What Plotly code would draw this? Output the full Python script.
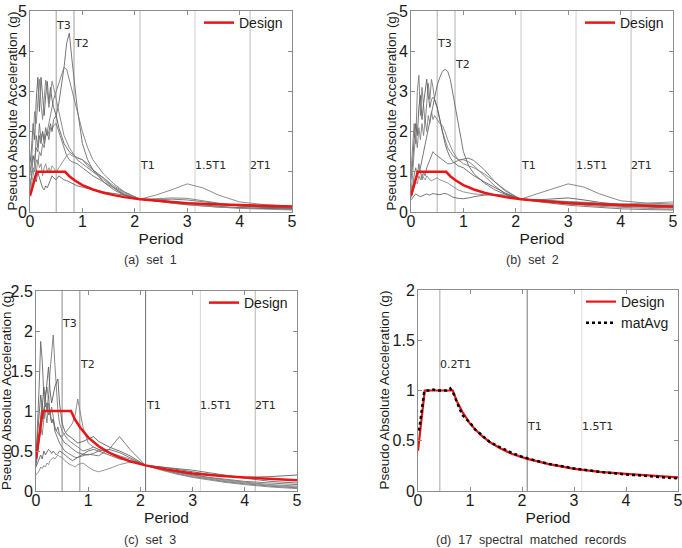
import plotly.graph_objects as go

# ---------------- data ----------------
P = [0.0, 0.03, 0.06, 0.09, 0.12, 0.15, 0.18, 0.21, 0.24, 0.27, 0.30, 0.33, 0.36, 0.39,
     0.42, 0.45, 0.5, 0.55, 0.6, 0.65, 0.7, 0.75, 0.8, 0.9, 1.0, 1.1, 1.2, 1.4, 1.6, 1.8,
     2.0, 2.1, 2.4, 2.7, 3.0, 3.3, 3.6, 4.0, 4.5, 5.0]

set1 = [
    [1.0, 1.2, 1.4, 1.3, 1.6, 1.5, 1.9, 1.7, 2.0, 1.8, 2.1, 1.9, 2.0, 2.2, 2.0, 2.3, 2.4, 2.7, 3.1, 3.6,
     4.2, 4.45, 3.8, 2.6, 1.7, 1.3, 1.05, 0.75, 0.55, 0.42, 0.35, 0.32, 0.28, 0.22, 0.18, 0.15, 0.12, 0.1, 0.08, 0.07],
    [0.7, 0.9, 1.1, 1.0, 1.3, 1.2, 1.5, 1.4, 1.7, 1.6, 1.9, 2.0, 2.2, 2.4, 2.6, 2.8, 3.0, 3.2, 3.45, 3.6,
     3.55, 3.3, 3.0, 2.5, 2.0, 1.6, 1.3, 0.95, 0.7, 0.5, 0.38, 0.32, 0.33, 0.35, 0.34, 0.28, 0.22, 0.16, 0.12, 0.1],
    [1.2, 1.6, 2.2, 1.8, 2.8, 3.35, 2.5, 3.35, 2.9, 2.4, 2.9, 3.25, 2.7, 3.1, 2.8, 2.6, 2.4, 2.1, 1.9, 1.7,
     1.6, 1.5, 1.45, 1.35, 1.3, 1.2, 1.05, 0.85, 0.6, 0.42, 0.34, 0.32, 0.3, 0.26, 0.22, 0.18, 0.14, 0.11, 0.09, 0.07],
    [0.9, 1.3, 1.9, 2.5, 2.2, 2.9, 3.3, 2.7, 2.3, 2.8, 3.28, 3.0, 2.6, 2.9, 3.25, 3.1, 2.8, 2.5, 2.2, 1.9,
     1.75, 1.6, 1.5, 1.3, 1.2, 1.1, 1.0, 0.85, 0.65, 0.5, 0.37, 0.32, 0.42, 0.55, 0.7, 0.6, 0.42, 0.25, 0.18, 0.15],
    [0.6, 0.9, 1.4, 1.2, 1.9, 1.6, 2.2, 1.8, 2.0, 1.7, 1.9, 2.0, 1.8, 2.1, 2.05, 2.15, 2.2, 2.0, 1.8, 1.6,
     1.4, 1.3, 1.25, 1.2, 1.1, 1.0, 0.9, 0.75, 0.6, 0.45, 0.36, 0.32, 0.3, 0.32, 0.3, 0.25, 0.2, 0.15, 0.11, 0.09],
    [0.5, 0.7, 0.9, 1.2, 1.0, 1.3, 1.1, 1.2, 0.9, 1.1, 1.2, 1.0, 1.1, 1.0, 1.15, 1.1, 1.0, 1.1, 1.2, 1.3,
     1.4, 1.45, 1.4, 1.35, 1.3, 1.15, 1.0, 0.8, 0.62, 0.48, 0.37, 0.32, 0.27, 0.22, 0.18, 0.15, 0.12, 0.09, 0.07, 0.05],
    [0.4, 0.5, 0.7, 0.9, 0.75, 1.0, 0.85, 0.7, 0.6, 0.55, 0.65, 0.6, 0.7, 0.8, 0.9, 0.85, 0.8, 0.9, 0.85, 0.8,
     0.78, 0.75, 0.72, 0.65, 0.62, 0.58, 0.55, 0.5, 0.46, 0.42, 0.35, 0.32, 0.28, 0.25, 0.22, 0.2, 0.18, 0.15, 0.12, 0.1],
]

set2 = [
    [0.5, 0.6, 0.7, 0.8, 0.9, 1.0, 1.1, 1.3, 1.5, 1.7, 1.9, 2.1, 2.3, 2.5, 2.7, 2.9, 3.15, 3.35, 3.5, 3.55,
     3.5, 3.3, 2.95, 2.2, 1.5, 1.15, 0.95, 0.72, 0.55, 0.44, 0.36, 0.32, 0.3, 0.27, 0.23, 0.2, 0.17, 0.14, 0.12, 0.1],
    [1.0, 1.5, 2.2, 1.7, 3.0, 3.4, 2.4, 3.1, 2.6, 2.2, 2.7, 3.2, 2.8, 3.3, 3.1, 2.8, 2.6, 2.3, 2.0, 1.8,
     1.6, 1.5, 1.4, 1.3, 1.3, 1.25, 1.15, 0.9, 0.65, 0.45, 0.35, 0.32, 0.45, 0.58, 0.7, 0.62, 0.45, 0.28, 0.22, 0.2],
    [0.8, 1.2, 1.8, 2.2, 1.9, 2.6, 2.9, 2.3, 2.7, 3.0, 3.3, 2.9, 2.6, 2.8, 2.85, 2.8, 2.6, 2.3, 2.0, 1.7,
     1.5, 1.35, 1.25, 1.15, 1.1, 1.0, 0.9, 0.75, 0.6, 0.47, 0.37, 0.32, 0.3, 0.33, 0.35, 0.3, 0.24, 0.18, 0.14, 0.12],
    [0.5, 0.9, 1.5, 1.9, 1.6, 2.1, 1.8, 2.2, 1.9, 2.3, 2.0, 2.4, 2.2, 2.5, 2.3, 2.4, 2.3, 2.2, 2.15, 2.0,
     1.8, 1.65, 1.5, 1.3, 1.2, 1.15, 1.1, 0.95, 0.75, 0.55, 0.38, 0.32, 0.28, 0.24, 0.2, 0.17, 0.14, 0.11, 0.09, 0.07],
    [0.4, 0.6, 0.9, 1.1, 0.9, 1.2, 1.0, 0.8, 1.0, 0.9, 1.1, 1.2, 1.3, 1.4, 1.5, 1.45, 1.4, 1.35, 1.3, 1.25,
     1.2, 1.2, 1.22, 1.28, 1.32, 1.34, 1.28, 1.05, 0.75, 0.52, 0.38, 0.32, 0.26, 0.21, 0.17, 0.14, 0.11, 0.08, 0.06, 0.05],
    [0.35, 0.5, 0.6, 0.75, 0.7, 0.9, 0.8, 0.95, 0.85, 0.8, 0.9, 0.85, 0.8, 0.78, 0.8, 0.82, 0.85, 0.8, 0.78, 0.75,
     0.72, 0.68, 0.62, 0.55, 0.5, 0.47, 0.45, 0.43, 0.42, 0.4, 0.35, 0.32, 0.3, 0.28, 0.26, 0.24, 0.22, 0.2, 0.22, 0.25],
    [0.3, 0.35, 0.4, 0.45, 0.42, 0.4, 0.38, 0.4, 0.42, 0.44, 0.45, 0.43, 0.42, 0.44, 0.46, 0.45, 0.44, 0.43, 0.45, 0.46,
     0.44, 0.4, 0.37, 0.34, 0.33, 0.35, 0.38, 0.42, 0.44, 0.42, 0.36, 0.32, 0.3, 0.27, 0.25, 0.23, 0.21, 0.19, 0.18, 0.17],
]

set3 = [
    [0.4, 0.8, 1.3, 1.87, 1.62, 1.2, 1.05, 1.1, 0.95, 1.0, 0.85, 0.9, 0.8, 0.75, 0.8, 0.7, 0.65, 0.6, 0.58, 0.55,
     0.52, 0.5, 0.48, 0.46, 0.45, 0.47, 0.5, 0.52, 0.48, 0.42, 0.36, 0.32, 0.27, 0.22, 0.18, 0.15, 0.12, 0.09, 0.06, 0.04],
    [0.35, 0.5, 0.7, 0.9, 1.1, 0.95, 1.2, 1.3, 1.15, 1.5, 1.7, 1.95, 1.6, 1.3, 1.0, 0.85, 0.75, 0.7, 0.65, 0.62,
     0.6, 0.58, 0.55, 0.5, 0.52, 0.55, 0.52, 0.48, 0.42, 0.38, 0.34, 0.32, 0.28, 0.24, 0.2, 0.17, 0.14, 0.11, 0.08, 0.06],
    [0.45, 0.7, 1.0, 1.2, 1.05, 1.3, 1.15, 1.4, 1.55, 1.25, 1.1, 1.2, 1.3, 1.35, 1.4, 1.1, 0.85, 0.75, 0.7, 0.68,
     0.65, 0.62, 0.6, 0.62, 0.65, 0.68, 0.62, 0.55, 0.5, 0.44, 0.36, 0.32, 0.3, 0.27, 0.24, 0.21, 0.19, 0.17, 0.18, 0.2],
    [0.3, 0.45, 0.6, 0.8, 0.7, 0.9, 1.0, 0.85, 1.1, 0.95, 1.05, 0.9, 0.8, 0.75, 0.72, 0.7, 0.68, 0.72, 0.75, 0.8,
     0.85, 0.95, 1.15, 0.8, 0.6, 0.55, 0.52, 0.48, 0.44, 0.4, 0.35, 0.32, 0.26, 0.21, 0.17, 0.14, 0.11, 0.08, 0.05, 0.03],
    [0.35, 0.5, 0.7, 0.9, 1.1, 0.9, 1.15, 1.0, 1.2, 0.95, 0.85, 0.9, 0.75, 0.7, 0.65, 0.6, 0.55, 0.5, 0.48, 0.46,
     0.44, 0.42, 0.42, 0.44, 0.46, 0.45, 0.44, 0.52, 0.68, 0.52, 0.38, 0.32, 0.27, 0.23, 0.2, 0.17, 0.15, 0.12, 0.1, 0.08],
    [0.2, 0.22, 0.25, 0.3, 0.28, 0.32, 0.3, 0.35, 0.33, 0.38, 0.4, 0.42, 0.4, 0.42, 0.45, 0.43, 0.42, 0.38, 0.35, 0.33,
     0.32, 0.3, 0.33, 0.35, 0.3, 0.26, 0.24, 0.28, 0.33, 0.36, 0.35, 0.32, 0.27, 0.23, 0.19, 0.16, 0.13, 0.1, 0.07, 0.05],
    [0.3, 0.35, 0.4, 0.45, 0.4, 0.5, 0.45, 0.48, 0.52, 0.5, 0.47, 0.5, 0.48, 0.45, 0.47, 0.5, 0.48, 0.45, 0.42, 0.4,
     0.38, 0.4, 0.42, 0.45, 0.5, 0.52, 0.5, 0.45, 0.4, 0.38, 0.35, 0.32, 0.3, 0.28, 0.26, 0.23, 0.2, 0.16, 0.12, 0.1],
]

design_T = [0.0, 0.13, 0.67, 0.75, 0.85, 1.0, 1.2, 1.4, 1.6, 1.8, 2.1, 2.5, 3.0, 3.5, 4.0, 4.5, 5.0]
design_Sa = [0.4, 1.0, 1.0, 0.89, 0.79, 0.67, 0.56, 0.48, 0.42, 0.37, 0.32, 0.27, 0.22, 0.19, 0.17, 0.15, 0.135]

avg_T = [0.02, 0.04, 0.06, 0.08, 0.1, 0.12, 0.15, 0.2, 0.25, 0.3, 0.35, 0.4, 0.45, 0.5, 0.55, 0.6, 0.62,
         0.65, 0.7, 0.75, 0.8, 0.85, 0.9, 1.0, 1.1, 1.2, 1.3, 1.4, 1.6, 1.8, 2.0, 2.2, 2.5, 3.0, 3.5,
         4.0, 4.5, 5.0]
avg_Sa = [0.6, 0.68, 0.76, 0.85, 0.93, 0.99, 1.0, 1.0, 1.0, 1.01, 1.0, 1.0, 1.0, 1.0, 1.0, 1.01, 1.02,
          1.0, 0.95, 0.88, 0.81, 0.76, 0.73, 0.68, 0.61, 0.57, 0.52, 0.48, 0.43, 0.38, 0.34, 0.31, 0.27,
          0.225, 0.19, 0.165, 0.145, 0.125]

mark_T_abc = [0.5, 0.84, 2.1, 3.15, 4.2]
mark_lbl_abc = ["T3", "T2", "T1", "1.5T1", "2T1"]
mark_T_d = [0.42, 2.1, 3.15]
mark_lbl_d = ["0.2T1", "T1", "1.5T1"]

captions = ["(a)  set  1", "(b)  set  2", "(c)  set  3", "(d)  17  spectral  matched  records"]
y_title = "Pseudo Absolute Acceleration (g)"
x_title = "Period"

# ---------------- figure ----------------
W, H = 682, 548
fig = go.Figure()

RED = "rgb(232,22,22)"
grays = ["#6a6a6a", "#7a7a7a", "#5f5f5f", "#808080", "#707070", "#8a8a8a", "#666666"]

sets = [set1, set2, set3]
axn = ["", "2", "3", "4"]
for k, s in enumerate(sets):
    for i, rec in enumerate(s):
        fig.add_trace(go.Scatter(x=P, y=rec, mode="lines", showlegend=False,
                                 line=dict(color=grays[i % len(grays)], width=0.9),
                                 xaxis="x" + axn[k], yaxis="y" + axn[k]))
    fig.add_trace(go.Scatter(x=design_T, y=design_Sa, mode="lines", name="Design",
                             line=dict(color=RED, width=2.5),
                             xaxis="x" + axn[k], yaxis="y" + axn[k],
                             legend="legend" + axn[k]))

fig.add_trace(go.Scatter(x=design_T, y=design_Sa, mode="lines", name="Design",
                         line=dict(color=RED, width=2.2), xaxis="x4", yaxis="y4",
                         legend="legend4"))
fig.add_trace(go.Scatter(x=avg_T, y=avg_Sa, mode="lines", name="matAvg",
                         line=dict(color="black", width=2.5, dash="dot"), xaxis="x4", yaxis="y4",
                         legend="legend4"))

# domains in pixels (left, right, top, bottom)
boxes = [(30, 292, 11, 212), (411, 673, 11, 212), (36, 297, 291, 491), (418, 678, 290, 491)]
ytitle_x = [12, 391, 6, 384]
yranges = [[0, 5], [0, 5], [0, 2.5], [0, 2]]
ydticks = [1, 1, 0.5, 0.5]

FONT = "Liberation Sans, Arial, sans-serif"
axis_common = dict(showline=True, linecolor="#8c8c8c", linewidth=1, mirror="ticks",
                   ticks="inside", ticklen=4, tickcolor="#8c8c8c", showgrid=False,
                   zeroline=False, ticklabeloverflow="allow",
                   tickfont=dict(family=FONT, size=16, color="#1a1a1a"))

lay = {}
annots = []
for k, (l, r, t, b) in enumerate(boxes):
    xd = [l / W, r / W]
    yd = [1 - b / H, 1 - t / H]
    lay["xaxis" + axn[k]] = dict(domain=xd, range=[0, 5], dtick=1, anchor="y" + axn[k],
                                 ticklabelstandoff=-5,
                                 title=dict(text=x_title, standoff=0,
                                            font=dict(family=FONT, size=15.5, color="#1a1a1a")),
                                 **axis_common)
    lay["yaxis" + axn[k]] = dict(domain=yd, range=yranges[k], dtick=ydticks[k], anchor="x" + axn[k],
                                 ticklabelstandoff=-1, **axis_common)
    lay["legend" + axn[k]] = dict(x=(r - 4) / W, y=1 - (t - 4) / H, xanchor="right", yanchor="top",
                                  bgcolor="rgba(0,0,0,0)", borderwidth=0,
                                  font=dict(family=FONT, size=14, color="#1a1a1a"),
                                  itemwidth=30, tracegroupgap=0)
    annots.append(dict(x=ytitle_x[k] / W, y=(yd[0] + yd[1]) / 2, xref="paper", yref="paper",
                       text=y_title, textangle=-90, showarrow=False, xanchor="center",
                       yanchor="middle", borderpad=0,
                       font=dict(family=FONT, size=13.5, color="#1a1a1a")))

fig.update_layout(width=W, height=H, margin=dict(l=0, r=0, t=0, b=0, autoexpand=False),
                  plot_bgcolor="white", paper_bgcolor="white", **lay)

# vertical period markers and labels
shapes = []
mark_colors_abc = [
    ["#a0a0a0", "#a0a0a0", "#bdbdbd", "#d0d0d0", "#bdbdbd"],
    ["#b0b0b0", "#b0b0b0", "#c8c8c8", "#d0d0d0", "#bdbdbd"],
    ["#8a8a8a", "#8a8a8a", "#6e6e6e", "#d8d8d8", "#b5b5b5"],
]
label_y_abc = [[4.65, 4.18, 1.15, 1.15, 1.15],
               [4.18, 3.66, 1.15, 1.15, 1.15],
               [2.09, 1.58, 1.075, 1.075, 1.075]]
LBLFONT = dict(family="DejaVu Sans", size=11, color="#2a2a2a")
for k in range(3):
    for j, tv in enumerate(mark_T_abc):
        shapes.append(dict(type="line", xref="x" + axn[k], yref="y" + axn[k] + " domain",
                           x0=tv, x1=tv, y0=0, y1=1, layer="below",
                           line=dict(color=mark_colors_abc[k][j], width=1)))
        annots.append(dict(x=tv, y=label_y_abc[k][j], xref="x" + axn[k], yref="y" + axn[k],
                           text=mark_lbl_abc[j], showarrow=False, xanchor="left", yanchor="middle",
                           xshift=-2, font=LBLFONT))
mark_colors_d = ["#a8a8a8", "#777777", "#dddddd"]
label_y_d = [1.257, 0.644, 0.644]
for j, tv in enumerate(mark_T_d):
    shapes.append(dict(type="line", xref="x4", yref="y4 domain", x0=tv, x1=tv, y0=0, y1=1,
                       layer="below", line=dict(color=mark_colors_d[j], width=1)))
    annots.append(dict(x=tv, y=label_y_d[j], xref="x4", yref="y4", text=mark_lbl_d[j],
                       showarrow=False, xanchor="left", yanchor="middle", xshift=-2, font=LBLFONT))

cap_pos = [(150, 260), (532, 260), (150, 540), (531, 540)]
for c, (cx, cy) in zip(captions, cap_pos):
    annots.append(dict(x=cx / W, y=1 - cy / H, xref="paper", yref="paper", text=c, showarrow=False,
                       xanchor="center", yanchor="middle", borderpad=0,
                       font=dict(family="Liberation Sans, Arial", size=12.5, color="#333333")))

fig.update_layout(shapes=shapes, annotations=annots)
fig.write_html("out.html")
